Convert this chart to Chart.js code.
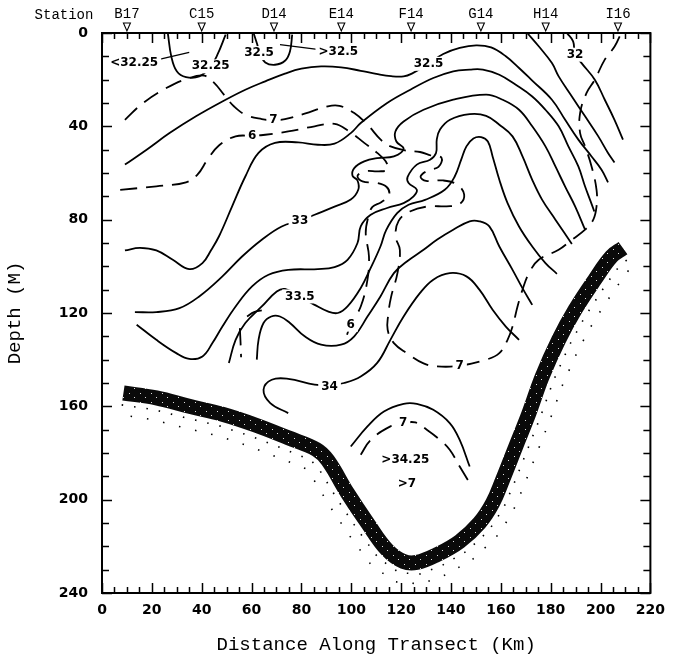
<!DOCTYPE html>
<html>
<head>
<meta charset="utf-8">
<script src="https://cdn.jsdelivr.net/npm/chart.js"></script>
<style>
  html, body { margin: 0; padding: 0; background: #fff; }
  canvas { display: block; }
</style>
</head>
<body>
<canvas id="myChart" width="674" height="661"></canvas>
<script>
    // stations along the top axis (km)
    var stationKm = [10, 40, 69, 96, 124, 152, 178, 207];
    var stationNames = ['B17', 'C15', 'D14', 'E14', 'F14', 'G14', 'H14', 'I16'];

    // salinity contours (solid), points are [km, depth m]
    var sal3225 = [[26.4, 0], [27.8, 10.0], [30.0, 16.4], [33.7, 18.9], [39.0, 18.6], [43.5, 14.5], [46.3, 9.3], [49.6, 0.7]];
    var sal3225Leader = [[22.5, 11.4], [35.0, 8.3]];
    var sal325Loop = [[60.8, 0], [62.1, 4.3], [63.5, 9.0], [65.5, 12.6], [69.4, 13.6], [73.4, 11.9], [75.4, 7.9], [76.3, 0.7]];
    var sal325Leader = [[71.4, 5.0], [88.0, 7.2]];
    var sal325 = [[9.2, 56.4], [17.9, 50.0], [27.1, 42.9], [37.7, 35.7], [49.6, 28.6], [57.5, 24.3], [65.5, 20.7], [73.4, 17.4],
        [80.0, 15.3], [87.9, 14.3], [95.9, 14.7], [103.8, 16.2], [110.0, 17.5], [116.0, 18.5], [121.0, 18.6], [124.3, 17.4],
        [131.0, 13.2], [136.9, 9.0], [143.5, 6.4], [150.1, 5.3], [156.1, 6.2], [162.0, 10.0], [167.3, 15.0], [172.6, 20.4],
        [180.5, 28.6], [185.8, 37.2], [191.1, 45.7], [196.4, 52.9], [200.4, 58.6], [203.0, 64.0]];
    var sal32 = [[186.5, 0], [189.0, 3.6], [189.8, 9.0], [192.4, 12.9], [197.7, 20.0], [201.7, 28.6], [205.6, 37.2], [209.0, 45.7]];
    var salTop = [[170.6, 0], [175.2, 5.7], [180.5, 12.9], [183.2, 18.6], [188.5, 27.2], [193.8, 35.7], [199.1, 44.3], [203.0, 51.4], [205.6, 55.5]];
    var sal3275 = [[9.2, 93.2], [15.2, 92.1], [21.8, 93.2], [28.4, 97.2], [35.0, 101.2], [40.3, 98.6], [43.8, 93.0], [47.0, 87.0],
        [52.2, 74.3], [57.5, 61.5], [62.8, 51.4], [69.4, 47.1], [78.7, 46.9], [86.6, 47.9], [93.3, 47.4], [99.8, 42.9],
        [103.8, 38.6], [114.4, 30.0], [123.7, 24.3], [132.9, 19.3], [140.9, 16.4], [147.5, 15.7], [152.8, 15.7], [159.4, 17.9],
        [166.0, 22.2], [172.6, 27.2], [177.9, 32.9], [183.2, 40.0], [187.1, 48.6], [191.1, 57.2], [193.8, 65.8], [195.8, 71.5], [197.5, 76.5]];
    var sal33 = [[13.2, 119.6], [21.8, 119.6], [31.1, 117.9], [39.0, 112.9], [48.3, 104.3], [56.2, 95.8], [64.1, 88.6], [72.1, 82.9],
        [79.4, 80.5], [85.3, 77.9], [93.3, 74.4], [99.8, 71.4], [102.8, 67.2], [102.5, 63.2], [100.5, 61.2], [101.2, 57.9],
        [105.2, 55.0], [110.4, 53.6], [117.1, 52.9], [121.0, 49.7], [118.1, 46.5], [117.7, 42.2], [121.0, 37.9], [129.0, 32.9],
        [140.9, 28.6], [154.1, 26.4], [160.7, 28.6], [167.3, 32.9], [172.6, 40.0], [177.9, 48.6], [181.9, 57.2], [185.8, 65.8],
        [189.8, 74.3], [193.8, 84.3]];
    var sal3325 = [[13.9, 125.0], [21.8, 131.5], [29.8, 137.2], [35.0, 139.7], [40.3, 138.6], [44.3, 132.9], [48.3, 125.8], [53.6, 117.2],
        [60.2, 108.6], [66.8, 103.6], [74.7, 101.5], [86.6, 101.2], [93.3, 100.3], [98.5, 97.2], [102.5, 90.0], [103.8, 82.9],
        [107.8, 77.9], [114.4, 75.0], [121.0, 72.9], [125.0, 70.0], [126.3, 67.2], [123.0, 64.3], [122.6, 61.7], [126.3, 56.4],
        [131.6, 54.3], [134.0, 51.4], [134.3, 45.7], [135.6, 41.4], [139.6, 37.2], [147.5, 34.8], [154.1, 35.5], [159.4, 39.3],
        [164.7, 44.3], [168.7, 52.9], [172.6, 62.9], [176.6, 71.5], [181.9, 80.0], [188.5, 90.4]];
    var sal335 = [[50.9, 141.4], [53.6, 131.5], [57.5, 124.3], [64.1, 117.2], [70.1, 110.8], [73.4, 109.7], [79.4, 112.9], [85.3, 116.5],
        [90.6, 119.3], [94.6, 120.0], [98.5, 117.2], [103.8, 109.3], [107.8, 100.7], [111.7, 91.5], [114.0, 84.5], [118.4, 77.2],
        [123.0, 73.6], [129.6, 71.5], [137.5, 67.2], [141.5, 61.5], [144.1, 54.3], [146.2, 48.6], [149.0, 45.2], [152.1, 44.6],
        [154.8, 46.5], [156.7, 52.9], [159.4, 62.9], [162.7, 72.9], [167.3, 82.9], [172.6, 91.5], [177.9, 98.6], [182.5, 103.2]];
    var sal3375 = [[62.1, 140.0], [62.8, 131.5], [64.8, 124.3], [67.9, 121.5], [71.4, 121.5], [75.4, 124.3], [81.3, 130.0], [87.9, 133.6],
        [95.9, 133.6], [101.2, 130.0], [106.5, 121.5], [111.7, 112.9], [117.1, 102.9], [122.3, 97.9], [129.0, 92.9], [134.5, 88.5],
        [140.9, 84.3], [147.5, 80.7], [151.4, 80.7], [155.4, 82.9], [159.4, 91.5], [164.7, 101.5], [168.5, 109.0], [172.6, 116.5]];
    var sal34 = [[74.7, 162.9], [67.5, 158.6], [64.8, 152.9], [68.1, 148.6], [74.7, 148.2], [85.3, 150.7], [91.3, 151.0], [97.1, 150.0],
        [103.8, 147.2], [110.4, 141.4], [115.7, 131.5], [121.0, 121.5], [127.6, 111.4], [132.9, 105.7], [139.5, 102.9], [146.2, 104.3],
        [151.4, 110.0], [156.7, 118.6], [162.0, 125.8], [167.3, 131.5]];
    var sal34Arc = [[58.2, 121.5], [61.0, 119.6], [64.1, 118.9]];
    var sal3425 = [[99.8, 177.2], [106.5, 168.6], [113.1, 162.2], [121.0, 158.9], [126.3, 158.9], [132.9, 161.5], [139.5, 167.2], [143.5, 174.4], [147.5, 185.8]];

    // oxygen contours (dashed)
    var oxy7 = [[9.2, 37.2], [16.5, 30.0], [25.8, 23.6], [35.0, 19.3], [41.0, 18.3], [45.0, 21.4], [48.9, 26.4], [52.9, 31.4],
        [57.5, 35.0], [64.1, 36.9], [68.8, 37.4], [73.4, 36.9], [81.3, 34.6], [90.6, 31.4], [95.2, 31.2], [101.2, 34.3],
        [106.5, 39.3], [111.8, 45.7], [115.5, 48.5], [121.5, 50.3], [127.6, 51.0], [132.0, 52.5], [136.2, 53.5], [135.0, 57.4],
        [131.0, 58.8], [127.8, 61.5], [130.0, 63.4], [136.9, 63.2], [142.5, 65.0], [145.3, 69.3], [143.5, 73.3], [138.2, 74.3],
        [131.0, 74.3], [123.5, 76.5], [119.0, 80.5], [117.8, 87.2], [119.5, 93.0], [118.5, 103.0], [116.0, 113.0], [114.8, 121.0],
        [114.6, 127.2], [117.1, 132.9], [122.3, 137.2], [129.0, 141.6], [134.2, 142.9], [143.5, 142.6], [154.1, 140.0], [159.4, 137.2],
        [162.7, 131.5], [164.7, 125.8], [166.7, 117.2], [168.7, 110.0], [171.3, 102.9], [175.2, 97.2], [183.2, 92.9], [188.5, 88.6],
        [193.8, 84.3], [197.1, 80.0], [198.4, 74.3], [198.4, 67.2], [196.4, 57.2], [193.8, 48.6], [191.8, 42.9], [191.8, 34.3],
        [194.4, 25.7], [197.7, 20.0], [201.7, 11.4], [205.7, 5.7], [208.3, 0]];
    var oxy6 = [[7.3, 67.2], [21.8, 65.7], [33.7, 64.0], [38.3, 60.7], [42.3, 54.3], [46.9, 48.2], [53.6, 44.3], [60.2, 44.0],
        [65.5, 43.6], [74.7, 42.2], [85.3, 40.0], [93.3, 38.9], [99.2, 42.2], [105.2, 47.1], [110.4, 51.4], [113.8, 55.0],
        [114.6, 58.5], [111.0, 59.3], [105.5, 59.3], [102.5, 61.3], [104.5, 63.6], [110.0, 64.2], [114.2, 66.0], [115.2, 69.5],
        [112.0, 72.5], [108.5, 74.5], [106.8, 79.0], [105.8, 85.7], [107.1, 95.8], [106.5, 105.7], [103.8, 117.2], [99.8, 125.0], [97.2, 132.9]];
    var oxy7Bottom = [[103.8, 180.7], [107.8, 174.4], [115.7, 168.6], [120.8, 167.2], [125.7, 166.9], [130.3, 170.0], [135.6, 174.4], [139.5, 178.6], [143.5, 185.8], [147.5, 192.9]];
    var oxyStub = [[55.3, 126.5], [55.6, 133.0], [55.8, 139.0]];

    // sea floor
    var seafloor = [[8.6, 154.3], [21.8, 156.4], [35.0, 160.0], [48.3, 163.4], [61.5, 168.0], [74.7, 173.5], [86.0, 178.5], [90.6, 183.2],
        [98.5, 197.2], [106.5, 210.0], [114.4, 221.5], [121.0, 226.5], [126.3, 226.9], [134.3, 223.6], [143.5, 217.9], [151.4, 210.0],
        [156.7, 201.5], [160.7, 191.5], [166.0, 177.2], [171.3, 162.9], [176.6, 147.2], [183.2, 131.5], [189.8, 118.6], [197.7, 105.7],
        [204.4, 95.8], [209.0, 92.2]];

    // contour labels
    var labelText = ['<32.25', '32.25', '32.5', '>32.5', '32.5', '32', '7', '6', '33', '33.5', '6', '34', '7', '7', '>34.25', '>7'];
    var labelKm = [12.9, 43.6, 63.0, 94.8, 131.0, 189.8, 68.8, 60.2, 79.4, 79.4, 99.8, 91.3, 143.5, 120.8, 121.7, 122.3];
    var labelDepth = [12.9, 14.3, 8.6, 7.9, 13.2, 9.3, 37.4, 44.0, 80.5, 112.9, 125.0, 151.5, 142.6, 167.2, 182.9, 193.2];

    function pts(arr) {
        return arr.map(function (p) { return { x: p[0], y: p[1] }; });
    }

    // dark stippled texture for the sea floor band
    function bandPattern() {
        var c = document.createElement('canvas');
        c.width = 11; c.height = 9;
        var g = c.getContext('2d');
        g.fillStyle = '#0a0a0a';
        g.fillRect(0, 0, 11, 9);
        g.fillStyle = '#ddd';
        g.fillRect(2, 1, 1, 1);
        g.fillRect(8, 6, 1, 1);
        return g.createPattern(c, 'repeat');
    }

    var datasets = [];
    function addLine(arr, dashed, width, tension) {
        datasets.push({
            data: pts(arr),
            borderColor: '#000',
            borderWidth: width || 1.8,
            borderDash: dashed ? [17, 9] : [],
            pointRadius: 0,
            fill: false,
            tension: tension === undefined ? 0.4 : tension
        });
    }

    datasets.push({
        data: pts(seafloor),
        borderColor: bandPattern(),
        borderWidth: 15,
        borderCapStyle: 'butt',
        pointRadius: 0,
        fill: false,
        tension: 0.4
    });
    [sal3225, sal325Loop, sal325, sal32, salTop, sal3275, sal33, sal3325, sal335, sal3375, sal34, sal34Arc, sal3425].forEach(function (a) { addLine(a, false); });
    addLine(sal3225Leader, false, 1.3, 0);
    addLine(sal325Leader, false, 1.3, 0);
    [oxy7, oxy6, oxy7Bottom, oxyStub].forEach(function (a) { addLine(a, true); });

    var sectionDecor = {
        id: 'sectionDecor',
        beforeDatasetsDraw: function (chart) {
            // sparse dots under the sea floor band
            var ctx = chart.ctx;
            var p = chart.getDatasetMeta(0).data;
            ctx.save();
            ctx.strokeStyle = '#000';
            ctx.lineWidth = 1.6;
            [[12, [1.5, 11], 0], [22, [1.5, 15], 6]].forEach(function (o) {
                ctx.setLineDash(o[1]);
                ctx.lineDashOffset = o[2];
                ctx.beginPath();
                for (var i = 0; i < p.length; i++) {
                    var a = p[Math.max(i - 1, 0)], b = p[Math.min(i + 1, p.length - 1)];
                    var dx = b.x - a.x, dy = b.y - a.y, l = Math.sqrt(dx * dx + dy * dy) || 1;
                    var nx = -dy / l, ny = dx / l;
                    var qx = p[i].x + nx * o[0], qy = p[i].y + ny * o[0];
                    if (i === 0) ctx.moveTo(qx, qy); else ctx.lineTo(qx, qy);
                }
                ctx.stroke();
            });
            ctx.restore();
        },
        afterDatasetsDraw: function (chart) {
            var ctx = chart.ctx, x = chart.scales.x, y = chart.scales.y;
            ctx.save();
            ctx.font = 'bold 12px "DejaVu Sans"';
            ctx.textAlign = 'center';
            ctx.textBaseline = 'middle';
            for (var i = 0; i < labelText.length; i++) {
                var px = x.getPixelForValue(labelKm[i]), py = y.getPixelForValue(labelDepth[i]);
                var w = ctx.measureText(labelText[i]).width;
                ctx.fillStyle = '#fff';
                ctx.fillRect(px - w / 2 - 3, py - 7, w + 6, 14);
                ctx.fillStyle = '#000';
                ctx.fillText(labelText[i], px, py);
            }
            ctx.restore();
        },
        afterDraw: function (chart) {
            var ctx = chart.ctx, a = chart.chartArea, x = chart.scales.x, y = chart.scales.y;
            ctx.save();
            ctx.strokeStyle = '#000';
            ctx.lineWidth = 2;
            ctx.strokeRect(a.left, a.top, a.right - a.left, a.bottom - a.top);
            ctx.lineWidth = 1.5;
            ctx.beginPath();
            // inward ticks
            for (var v = 0; v <= 220; v += 5) {
                var px = Math.round(x.getPixelForValue(v)) + 0.5;
                var len = v % 20 === 0 ? 10 : 6;
                ctx.moveTo(px, a.bottom); ctx.lineTo(px, a.bottom - len);
                ctx.moveTo(px, a.top); ctx.lineTo(px, a.top + len);
            }
            for (var d = 0; d <= 240; d += 10) {
                var py = Math.round(y.getPixelForValue(d)) + 0.5;
                var l2 = d % 40 === 0 ? 10 : 7;
                ctx.moveTo(a.left, py); ctx.lineTo(a.left + l2, py);
                ctx.moveTo(a.right, py); ctx.lineTo(a.right - l2, py);
            }
            ctx.stroke();
            // station markers
            ctx.lineWidth = 1.1;
            stationKm.forEach(function (s) {
                var px = x.getPixelForValue(s);
                ctx.beginPath();
                ctx.moveTo(px - 3.5, 23);
                ctx.lineTo(px + 3.5, 23);
                ctx.lineTo(px, 31);
                ctx.closePath();
                ctx.stroke();
            });
            ctx.fillStyle = '#000';
            ctx.font = '14px "Liberation Mono"';
            ctx.textAlign = 'center';
            ctx.textBaseline = 'middle';
            ctx.fillText('Station', 64, 15);
            ctx.restore();
        }
    };

    var ctx = document.getElementById('myChart').getContext('2d');
    window.myChart = new Chart(ctx, {
        type: 'line',
        data: { datasets: datasets },
        options: {
            responsive: false,
            animation: false,
            devicePixelRatio: 1,
            layout: { padding: { left: 0, right: 18, top: 0, bottom: 0 } },
            plugins: { legend: { display: false }, tooltip: { enabled: false } },
            scales: {
                x: {
                    type: 'linear', position: 'bottom', min: 0, max: 220,
                    grid: { display: false, drawTicks: false }, border: { display: false },
                    ticks: { stepSize: 20, color: '#000', padding: 9, maxRotation: 0, font: { family: 'DejaVu Sans', size: 14, weight: 'bold' } },
                    title: { display: true, text: 'Distance Along Transect (Km)', color: '#000', padding: { top: 0, bottom: 5 }, font: { family: 'Liberation Mono', size: 19, lineHeight: 1.2 } },
                    afterFit: function (s) { s.height = 68; }
                },
                xTop: {
                    type: 'linear', position: 'top', min: 0, max: 220,
                    grid: { display: false, drawTicks: false }, border: { display: false },
                    afterBuildTicks: function (s) { s.ticks = stationKm.map(function (v) { return { value: v }; }); },
                    ticks: {
                        autoSkip: false, maxRotation: 0, padding: 10, color: '#000',
                        font: { family: 'Liberation Mono', size: 14 },
                        callback: function (v, i) { return stationNames[i]; }
                    },
                    afterFit: function (s) { s.height = 33; }
                },
                y: {
                    type: 'linear', min: 0, max: 240, reverse: true,
                    grid: { display: false, drawTicks: false }, border: { display: false },
                    ticks: { stepSize: 40, color: '#000', padding: 14, font: { family: 'DejaVu Sans', size: 14, weight: 'bold' } },
                    title: { display: true, text: 'Depth (M)', color: '#000', padding: { top: 4, bottom: 0 }, font: { family: 'Liberation Mono', size: 19, lineHeight: 1.2 } },
                    afterFit: function (s) { s.width = 102; }
                }
            }
        },
        plugins: [sectionDecor]
    });
</script>
</body>
</html>
